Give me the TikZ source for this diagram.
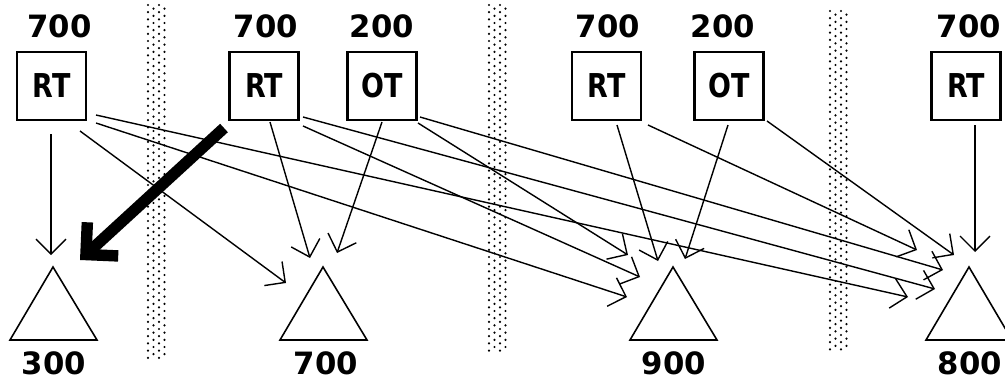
\documentclass[tikz,border=0pt]{standalone}
\usepackage{fontspec}
\setmainfont{DejaVu Sans}
\newfontfamily\numfont{DejaVu Sans}
\newfontfamily\letfont[FakeStretch=0.82]{DejaVu Sans}
\usetikzlibrary{arrows.meta}
\begin{document}
\begin{tikzpicture}[x=0.02cm,y=-0.02cm,
  box/.style={draw,line width=1.2pt,minimum width=1.38cm,minimum height=1.37cm,inner sep=0pt,
    font=\letfont\bfseries\fontsize{18.7}{20}\selectfont},
  num/.style={inner sep=0pt,font=\numfont\bfseries\fontsize{17.5}{19}\selectfont},
  conn/.style={line width=0.8pt,-{Straight Barb[length=8.5pt,width=17pt]}},
  heavy/.style={line width=6.5pt,-{Straight Barb[length=13pt,width=26pt]}},
  tri/.style={draw,line width=0.9pt,line join=miter}]
\useasboundingbox (0,0) rectangle (1005,379);
\clip (0,0) rectangle (1005,379);

% dotted separator bands
\foreach \bx/\yt/\yb in {146/5/359,487/5/352,828/11/352}{
  \pgfmathtruncatemacro{\nr}{(\yb-\yt)/3.6}
  \foreach \j in {0,...,\nr}{
    \pgfmathsetmacro{\yy}{\yt+3.6*\j}
    \pgfmathsetmacro{\off}{mod(\j,2)*5.5}
    \fill (\bx+2+\off,\yy) circle (0.7pt);
    \fill (\bx+13+\off,\yy) circle (0.7pt);
  }
}

% boxes
\node[box] (b1) at (51.5,86) {RT};
\node[box] (b2) at (264,86) {RT};
\node[box] (b3) at (382,86) {OT};
\node[box] (b4) at (606.5,86) {RT};
\node[box] (b5) at (729,86) {OT};
\node[box] (b6) at (966,86) {RT};

% top labels
\node[num] (t1) at (59.5,26) {700};
\node[num] (t2) at (266,26) {700};
\node[num] (t3) at (382,26) {200};
\node[num] (t4) at (608,26) {700};
\node[num] (t5) at (723,26) {200};
\node[num] (t6) at (969,26) {700};

% triangles
\draw[tri] (10,340) coordinate (A1) -- (53,267) coordinate (T1) -- (97,340) -- cycle;
\draw[tri] (280,340) coordinate (A2) -- (323,267) coordinate (T2) -- (367,340) -- cycle;
\draw[tri] (630,340) coordinate (A3) -- (673,267) coordinate (T3) -- (717,340) -- cycle;
\draw[tri] (926,340) coordinate (A4) -- (969,267) coordinate (T4) -- (1012,340) -- cycle;

% bottom labels
\node[num] (n1) at (54,363) {300};
\node[num] (n2) at (326,363) {700};
\node[num] (n3) at (674,363) {900};
\node[num] (n4) at (970,363) {800};

% start points
\coordinate (s1a) at (51,134);
\coordinate (s1b) at (80,131);
\coordinate (s1c) at (96,115);
\coordinate (s1d) at (96,123);
\coordinate (s2h) at (224,128);
\coordinate (s2a) at (270,122);
\coordinate (s2b) at (303,117);
\coordinate (s2c) at (303,126);
\coordinate (s3a) at (382,122);
\coordinate (s3b) at (420,117);
\coordinate (s3c) at (418,123);
\coordinate (s4a) at (617,125);
\coordinate (s4b) at (648,125);
\coordinate (s5a) at (728,125);
\coordinate (s5b) at (767,121);
\coordinate (s6a) at (975,125);

% end points
\coordinate (e1a) at (51,255);
\coordinate (e1h) at (80,260);
\coordinate (e2a) at (286,283);
\coordinate (e2b) at (310,258);
\coordinate (e2c) at (337,253);
\coordinate (e3a) at (628,255);
\coordinate (e3b) at (640,277);
\coordinate (e3c) at (627,297);
\coordinate (e3d) at (658,261);
\coordinate (e3e) at (685,259);
\coordinate (e4a) at (917,250);
\coordinate (e4b) at (954,255);
\coordinate (e4c) at (943,270);
\coordinate (e4d) at (935,289);
\coordinate (e4e) at (908,297);
\coordinate (e4f) at (975,252);

% connectors
\draw[conn] (s1a) -- (e1a);
\draw[conn] (s1b) -- (e2a);
\draw[conn] (s1c) -- (e4e);
\draw[conn] (s1d) -- (e3c);
\draw[conn] (s2a) -- (e2b);
\draw[conn] (s2b) -- (e4d);
\draw[conn] (s2c) -- (e3b);
\draw[conn] (s3a) -- (e2c);
\draw[conn] (s3b) -- (e4c);
\draw[conn] (s3c) -- (e3a);
\draw[conn] (s4a) -- (e3d);
\draw[conn] (s4b) -- (e4a);
\draw[conn] (s5a) -- (e3e);
\draw[conn] (s5b) -- (e4b);
\draw[conn] (s6a) -- (e4f);
\draw[heavy] (s2h) -- (e1h);
\end{tikzpicture}
\end{document}
